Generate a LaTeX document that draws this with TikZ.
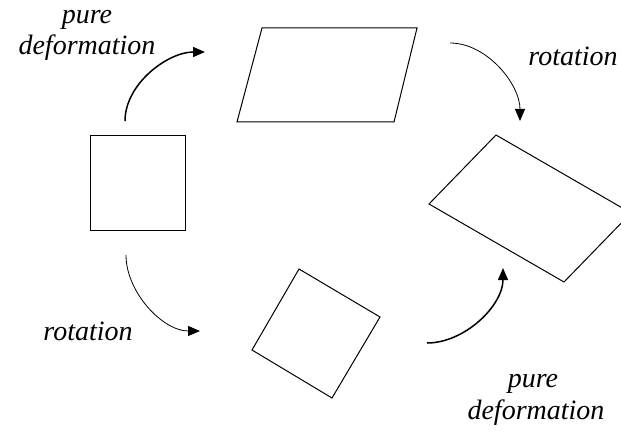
\documentclass[tikz,border=0pt]{standalone}
\usepackage{fontspec}
\setmainfont{Liberation Serif}
\usetikzlibrary{arrows.meta}
\begin{document}
\begin{tikzpicture}[x=1pt,y=-1pt,
  shape outline/.style={draw=black,line width=1pt,line join=miter},
  heavy arrow/.style={draw=black,line width=1.5pt,-{Triangle[length=12pt,width=10pt]}},
  light arrow/.style={draw=black,line width=0.8pt,-{Triangle[length=12pt,width=10pt]}},
  caption/.style={font=\fontsize{28}{31}\selectfont\itshape,align=center,inner sep=0pt}]
  \useasboundingbox (0,0) rectangle (621,433);
  \clip (0,0) rectangle (621,433);

  % initial square
  \draw[shape outline] (90,136) rectangle (185,230);
  % sheared shape after pure deformation
  \draw[shape outline] (262,28) -- (417,28) -- (394,122) -- (237,122) -- cycle;
  % rotated square
  \draw[shape outline] (299,269) -- (380,317) -- (332,398) -- (252,350) -- cycle;
  % final rotated and deformed shape
  \draw[shape outline] (496,135) -- (631,213) -- (564,282) -- (429,204) -- cycle;

  % arrow end points
  \coordinate (pdA) at (125,121);
  \coordinate (pdB) at (205,52);
  \coordinate (rtA) at (450,43);
  \coordinate (rtB) at (520,121);
  \coordinate (rbA) at (126,255);
  \coordinate (rbB) at (200,331);
  \coordinate (pbA) at (427,343);
  \coordinate (pbB) at (503,268);

  % curve angles are given in page directions
  \draw[heavy arrow] (pdA) to[out=90,in=180,looseness=0.9] (pdB);
  \draw[light arrow] (rtA) to[out=0,in=90,looseness=0.9] (rtB);
  \draw[light arrow] (rbA) to[out=-90,in=180,looseness=0.9] (rbB);
  \draw[heavy arrow] (pbA) to[out=0,in=-90,looseness=0.9] (pbB);

  % captions
  \node[caption,anchor=base] (capA) at (87,24) {pure};
  \node[caption,anchor=base] (capB) at (87,55) {deformation};
  \node[caption,anchor=base] (capC) at (573,66) {rotation};
  \node[caption,anchor=base] (capD) at (88,340) {rotation};
  \node[caption,anchor=base] (capE) at (533,387) {pure};
  \node[caption,anchor=base] (capF) at (536,419) {deformation};
\end{tikzpicture}
\end{document}
